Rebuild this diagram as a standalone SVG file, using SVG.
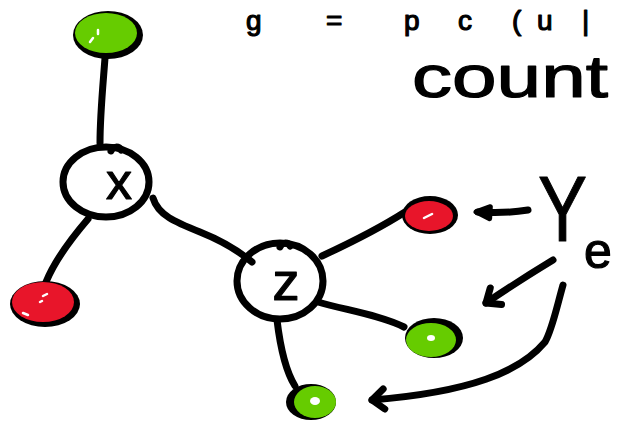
<svg xmlns="http://www.w3.org/2000/svg" width="622" height="423" viewBox="0 0 622 423">
  <style>
    .ink { fill: none; stroke: #000; stroke-width: 7; stroke-linecap: round; stroke-linejoin: round; }
    .rim { fill: #000; }
    .green { fill: #66cc00; }
    .red { fill: #e8152a; }
    .shine { fill: none; stroke: #fff; stroke-width: 2.5; stroke-linecap: round; }
    .hand { font-family: "Liberation Sans", "DejaVu Sans", sans-serif; fill: #000; stroke: #000; stroke-width: 1.2; stroke-linejoin: round; }
  </style>
  <defs>
    <marker id="chevron" markerUnits="userSpaceOnUse" viewBox="-16 -14 22 28" markerWidth="22" markerHeight="28" refX="0" refY="0" orient="auto">
      <path d="M-12,-10 L0,0 L-12,10" fill="none" stroke="#000" stroke-width="7" stroke-linecap="round" stroke-linejoin="round"/>
    </marker>
    <marker id="blob" markerUnits="userSpaceOnUse" viewBox="-16 -12 22 24" markerWidth="22" markerHeight="24" refX="0" refY="0" orient="auto">
      <path d="M-12,-6 L2,0 L-12,6 Z" fill="#000" stroke="#000" stroke-width="5" stroke-linejoin="round"/>
    </marker>
  </defs>

  <rect width="622" height="423" fill="#fff"/>

  <!-- formula along the top edge, one symbol at a time -->
  <g id="formula" class="hand" font-size="28">
    <text x="246" y="30">g</text>
    <text x="326" y="30">=</text>
    <text x="404" y="30">p</text>
    <text x="458" y="30">c</text>
    <text x="512" y="30">(</text>
    <text x="537" y="30">u</text>
    <text x="582" y="30">|</text>
  </g>

  <text id="count" class="hand" x="412" y="97" font-size="60" textLength="196" lengthAdjust="spacingAndGlyphs">count</text>

  <!-- connectors -->
  <g id="connectors" class="ink">
    <path d="M105,58 C103,85 100,115 100,143"/>
    <path d="M88,219 C70,240 55,260 46,282"/>
    <path d="M153,198 C158,215 175,222 200,232 C225,242 240,252 252,262"/>
    <path d="M322,256 C350,243 380,228 405,212"/>
    <path d="M318,302 C345,310 380,315 404,327"/>
    <path d="M277,320 C280,345 285,370 295,386"/>
    <path d="M528,210 C510,213 495,213 478,212" marker-end="url(#blob)"/>
    <path d="M553,260 C530,274 505,290 486,303" marker-end="url(#chevron)"/>
    <path d="M563,285 C556,310 552,330 545,342 C520,372 470,392 372,400" marker-end="url(#chevron)"/>
  </g>

  <!-- operation nodes -->
  <g id="node-x">
    <ellipse class="ink" cx="106" cy="182" rx="43" ry="35"/>
    <path class="ink" d="M111,151 C113,146 119,146 121,150"/>
    <text class="hand" x="119" y="199" font-size="52" text-anchor="middle" stroke-width="2">x</text>
  </g>
  <g id="node-z">
    <ellipse class="ink" cx="280" cy="281" rx="43" ry="38"/>
    <path class="ink" d="M280,247 C282,242 288,242 290,246"/>
    <text class="hand" x="286" y="300" font-size="54" text-anchor="middle" stroke-width="2">z</text>
  </g>

  <!-- leaf nodes -->
  <g id="leaf-top">
    <ellipse class="rim" cx="108" cy="35" rx="35" ry="24"/>
    <ellipse class="green" cx="106" cy="33" rx="31" ry="20"/>
    <path class="shine" d="M90,42 L93,38 M98,34 L98,30"/>
  </g>
  <g id="leaf-left">
    <ellipse class="rim" cx="45" cy="304" rx="35" ry="23"/>
    <ellipse class="red" cx="43" cy="302" rx="31" ry="20"/>
    <path class="shine" d="M43,296 L47,294 M40,302 L42,301 M23,313 L28,315"/>
  </g>
  <g id="leaf-red">
    <ellipse class="rim" cx="430" cy="215" rx="28" ry="19"/>
    <ellipse class="red" cx="429" cy="216" rx="24" ry="15"/>
    <path class="shine" d="M424,218 L432,214"/>
  </g>
  <g id="leaf-green">
    <ellipse class="rim" cx="434" cy="338" rx="29" ry="20"/>
    <ellipse class="green" cx="431" cy="340" rx="25" ry="17"/>
    <ellipse cx="431" cy="338" rx="4" ry="3" fill="#fff"/>
  </g>
  <g id="leaf-bottom">
    <ellipse class="rim" cx="311" cy="402" rx="25" ry="18"/>
    <ellipse class="green" cx="315" cy="402" rx="21" ry="16"/>
    <ellipse cx="315" cy="401" rx="5" ry="4" fill="#fff"/>
  </g>

  <!-- label for the arrows -->
  <g id="label-ye" class="hand">
    <text x="538" y="241" font-size="92" stroke-width="1" transform="translate(538 0) scale(0.8 1) translate(-538 0)">Y</text>
    <text x="584" y="268" font-size="50">e</text>
  </g>
</svg>
